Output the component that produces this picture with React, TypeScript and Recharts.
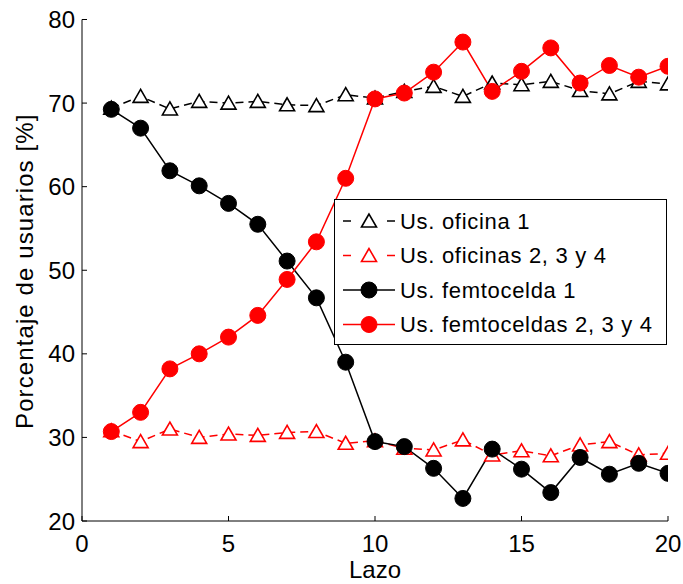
import React from 'react';
import { LineChart, Line, XAxis, YAxis, Legend, Label } from 'recharts';

const lazo = [1, 2, 3, 4, 5, 6, 7, 8, 9, 10, 11, 12, 13, 14, 15, 16, 17, 18, 19, 20];
const oficina1 = [69.4, 70.8, 69.3, 70.2, 70.0, 70.2, 69.8, 69.7, 71.0, 70.6, 71.4, 72.0, 70.8, 72.4, 72.2, 72.6, 71.5, 71.1, 72.6, 72.3];
const oficinas234 = [30.8, 29.5, 31.0, 30.0, 30.4, 30.25, 30.6, 30.7, 29.3, 29.6, 28.7, 28.5, 29.7, 27.9, 28.4, 27.8, 29.1, 29.5, 27.9, 28.1];
const femto1 = [69.25, 67.0, 61.9, 60.1, 58.0, 55.5, 51.1, 46.7, 39.0, 29.5, 28.9, 26.3, 22.7, 28.6, 26.2, 23.4, 27.6, 25.6, 26.9, 25.7];
const femto234 = [30.7, 33.0, 38.2, 40.0, 42.0, 44.6, 48.9, 53.4, 61.0, 70.5, 71.2, 73.7, 77.3, 71.4, 73.8, 76.6, 72.4, 74.5, 73.1, 74.4];

const xTicks = [0, 5, 10, 15, 20];
const yTicks = [20, 30, 40, 50, 60, 70, 80];

const seriesNames = ['Us. oficina 1', 'Us. oficinas 2, 3 y 4', 'Us. femtocelda 1', 'Us. femtoceldas 2, 3 y 4'];
const seriesKeys = ['oficina1', 'oficinas234', 'femto1', 'femto234'];
const seriesColors = ['#000000', '#ff0000', '#000000', '#ff0000'];
const seriesMarkers = ['triangle', 'triangle', 'circle', 'circle'];
const seriesDashed = [true, true, false, false];

const data = lazo.map((x, i) => ({
  x,
  oficina1: oficina1[i],
  oficinas234: oficinas234[i],
  femto1: femto1[i],
  femto234: femto234[i],
}));

const FONT = '"Liberation Sans", Arial, Helvetica, sans-serif';

const Marker = ({ cx, cy, type, color }: any) => {
  if (cx == null || cy == null) return null;
  if (type === 'triangle') {
    const pts = `${cx},${cy - 7} ${cx - 7.5},${cy + 6} ${cx + 7.5},${cy + 6}`;
    return <polygon points={pts} fill="#fff" stroke={color} strokeWidth={1.6} strokeLinejoin="miter" />;
  }
  return <circle cx={cx} cy={cy} r={8} fill={color} stroke={color} strokeWidth={1} />;
};

const BottomTick = (props: any) => {
  const { x, y, payload } = props;
  return (
    <g>
      <line x1={x} x2={x} y1={y} y2={y - 5} stroke="#000" strokeWidth={1} />
      <text x={x} y={y + 31} textAnchor="middle" fontSize={24} fill="#000" fontFamily={FONT}>
        {payload.value}
      </text>
    </g>
  );
};

const LeftTick = (props: any) => {
  const { x, y, payload } = props;
  return (
    <g>
      <line x1={x} x2={x + 5} y1={y} y2={y} stroke="#000" strokeWidth={1} />
      <text x={x - 7} y={y + 8.5} textAnchor="end" fontSize={24} fill="#000" fontFamily={FONT}>
        {payload.value}
      </text>
    </g>
  );
};

const TopTick = (props: any) => {
  const { x, y } = props;
  return <line x1={x} x2={x} y1={y} y2={y + 5} stroke="#000" strokeWidth={1} />;
};

const RightTick = (props: any) => {
  const { x, y } = props;
  return <line x1={x} x2={x - 5} y1={y} y2={y} stroke="#000" strokeWidth={1} />;
};

const YLabel = (props: any) => {
  const vb = props.viewBox || { x: 0, y: 0, width: 0, height: 0 };
  const cy = vb.y + vb.height / 2 + 1;
  const cx = vb.x + 33;
  return (
    <text x={cx} y={cy} transform={`rotate(-90, ${cx}, ${cy})`} textAnchor="middle" fontSize={24} letterSpacing={1.1} fill="#000" fontFamily={FONT}>
      Porcentaje de usuarios [%]
    </text>
  );
};

const XLabel = (props: any) => {
  const vb = props.viewBox || { x: 0, y: 0, width: 0, height: 0 };
  return (
    <text x={vb.x + vb.width / 2} y={vb.y + 57} textAnchor="middle" fontSize={24} fill="#000" fontFamily={FONT}>
      Lazo
    </text>
  );
};

const LegendBox = () => {
  const w = 333;
  const h = 146;
  const rowY = [22, 56.5, 91, 125.5];
  return (
    <svg width={w} height={h} style={{ display: 'block' }}>
      <rect x={0.5} y={0.5} width={w - 1} height={h - 1} fill="#fff" stroke="#000" strokeWidth={1} />
      {seriesNames.map((name, i) => {
        const y = rowY[i];
        const c = seriesColors[i];
        return (
          <g key={name}>
            {seriesDashed[i] ? (
              <g>
                <line x1={9} x2={17} y1={y} y2={y} stroke={c} strokeWidth={1.5} />
                <line x1={53} x2={61} y1={y} y2={y} stroke={c} strokeWidth={1.5} />
              </g>
            ) : (
              <line x1={9} x2={61} y1={y} y2={y} stroke={c} strokeWidth={1.5} />
            )}
            <Marker cx={35} cy={y} type={seriesMarkers[i]} color={c} />
            <text x={66} y={y + 7.8} fontSize={22} letterSpacing={0.7} fill="#000" fontFamily={FONT}>
              {name}
            </text>
          </g>
        );
      })}
    </svg>
  );
};

export default function App() {
  return (
    <div style={{ position: 'absolute', left: 0, top: 0, fontFamily: FONT, background: '#fff' }}>
      <LineChart width={683} height={584} data={data} margin={{ top: 19.5, right: 15, bottom: 0, left: 0 }}>
        <XAxis
          dataKey="x"
          type="number"
          domain={[0, 20]}
          ticks={xTicks}
          interval={0}
          allowDataOverflow
          height={63}
          tickSize={0}
          tickMargin={0}
          tickLine={false}
          axisLine={{ stroke: '#000', strokeWidth: 1 }}
          tick={<BottomTick />}
        >
          <Label content={<XLabel />} />
        </XAxis>
        <XAxis
          xAxisId="top"
          orientation="top"
          dataKey="x"
          type="number"
          domain={[0, 20]}
          ticks={xTicks}
          interval={0}
          allowDataOverflow
          height={0}
          tickSize={0}
          tickMargin={0}
          tickLine={false}
          axisLine={{ stroke: '#000', strokeWidth: 1 }}
          tick={<TopTick />}
        />
        <YAxis
          type="number"
          domain={[20, 80]}
          ticks={yTicks}
          interval={0}
          allowDataOverflow
          width={82}
          tickSize={0}
          tickMargin={0}
          tickLine={false}
          axisLine={{ stroke: '#000', strokeWidth: 1 }}
          tick={<LeftTick />}
        >
          <Label content={<YLabel />} />
        </YAxis>
        <YAxis
          yAxisId="right"
          orientation="right"
          type="number"
          domain={[20, 80]}
          ticks={yTicks}
          interval={0}
          allowDataOverflow
          width={0}
          tickSize={0}
          tickMargin={0}
          tickLine={false}
          axisLine={{ stroke: '#000', strokeWidth: 1 }}
          tick={<RightTick />}
        />
        {seriesKeys.map((k, i) => (
          <Line
            key={k}
            dataKey={k}
            name={seriesNames[i]}
            stroke={seriesColors[i]}
            strokeWidth={1.5}
            strokeDasharray={seriesDashed[i] ? '8 5' : undefined}
            isAnimationActive={false}
            activeDot={false}
            dot={(p: any) => <Marker key={`${k}-${p.index}`} cx={p.cx} cy={p.cy} type={seriesMarkers[i]} color={seriesColors[i]} />}
          />
        ))}
        <Legend
          layout="vertical"
          align="center"
          verticalAlign="middle"
          content={<LegendBox />}
          wrapperStyle={{ position: 'absolute', left: 334, top: 199, width: 333, height: 146, margin: 0, padding: 0 }}
        />
      </LineChart>
    </div>
  );
}
